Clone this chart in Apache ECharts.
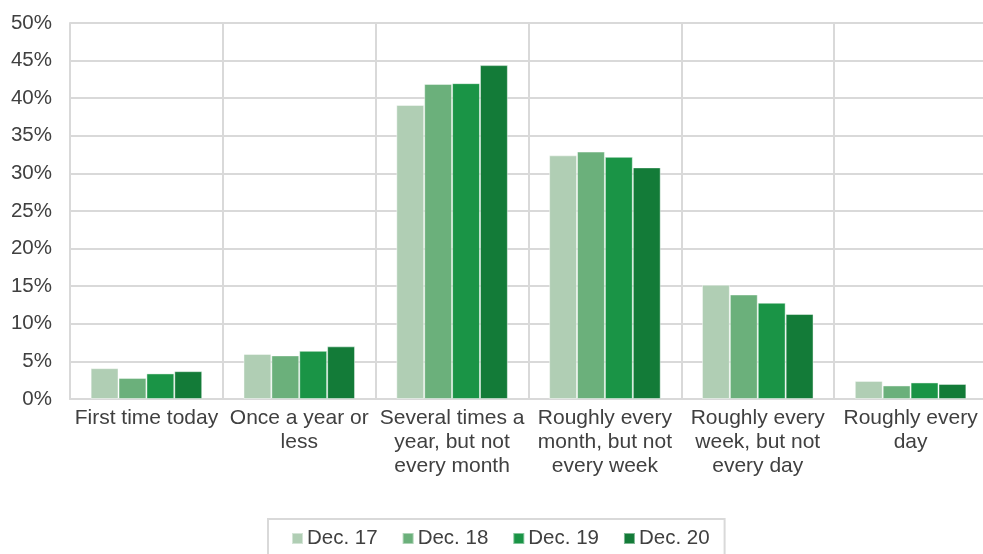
<!DOCTYPE html>
<html>
<head>
<meta charset="utf-8">
<script src="https://cdn.jsdelivr.net/npm/echarts@6/dist/echarts.min.js"></script>
<style>
  html, body { margin: 0; padding: 0; background: #fff; overflow: hidden; }
  /* the plot runs a few pixels past the right edge of the window */
  #chart { width: 990px; height: 554px; }
</style>
</head>
<body>
<div id="chart"></div>
<script>
// Visit frequency categories (x axis)
const categories = [
  'First time today',
  'Once a year or\nless',
  'Several times a\nyear, but not\nevery month',
  'Roughly every\nmonth, but not\nevery week',
  'Roughly every\nweek, but not\nevery day',
  'Roughly every\nday'
];

// Share of respondents, in percent, per survey wave
const dec17 = [4.1, 6.0, 39.1, 32.4, 15.2, 2.4];
const dec18 = [2.8, 5.8, 41.9, 32.9, 13.9, 1.8];
const dec19 = [3.4, 6.4, 42.0, 32.2, 12.8, 2.2];
const dec20 = [3.7, 7.0, 44.4, 30.8, 11.3, 2.0];

const seriesNames = ['Dec. 17', 'Dec. 18', 'Dec. 19', 'Dec. 20'];
const seriesColors = ['#B0CEB4', '#6BB07B', '#1A9446', '#137B38'];

const yTicks = { min: 0, max: 50, interval: 5 };

const gridColor = '#D9D9D9';
const textColor = '#404040';
const fontFamily = '"Liberation Sans", Arial, sans-serif';

const chart = echarts.init(document.getElementById('chart'), null, { renderer: 'canvas' });

const seriesData = [dec17, dec18, dec19, dec20];

chart.setOption({
  animation: false,
  textStyle: { fontFamily: fontFamily },
  grid: { left: 70, top: 23, right: 3, bottom: 155, containLabel: false },
  legend: {
    data: seriesNames,
    left: 268,
    top: 519,
    orient: 'horizontal',
    icon: 'rect',
    itemWidth: 11,
    itemHeight: 11,
    itemGap: 24,
    padding: [9, 15, 20, 23],
    borderColor: gridColor,
    borderWidth: 2,
    textStyle: { color: textColor, fontSize: 20.5, fontFamily: fontFamily, padding: [0, 0, 0, -1] }
  },
  xAxis: {
    type: 'category',
    data: categories,
    boundaryGap: true,
    axisLine: { show: true, lineStyle: { color: gridColor, width: 2 } },
    axisTick: { show: false },
    splitLine: { show: true, interval: 0, lineStyle: { color: gridColor, width: 2 } },
    axisLabel: {
      interval: 0,
      color: textColor,
      fontSize: 21,
      lineHeight: 24,
      margin: 7,
      fontFamily: fontFamily
    }
  },
  yAxis: {
    type: 'value',
    min: yTicks.min,
    max: yTicks.max,
    interval: yTicks.interval,
    axisLine: { show: true, lineStyle: { color: gridColor, width: 2 } },
    axisTick: { show: false },
    splitLine: { show: true, lineStyle: { color: gridColor, width: 2 } },
    axisLabel: {
      formatter: '{value}%',
      color: textColor,
      fontSize: 20.5,
      margin: 18,
      fontFamily: fontFamily
    }
  },
  series: seriesNames.map((name, i) => ({
    name: name,
    type: 'bar',
    data: seriesData[i],
    barGap: '0%',
    barCategoryGap: '27%',
    itemStyle: {
      color: seriesColors[i],
      borderColor: 'rgba(255,255,255,0.45)',
      borderWidth: 1
    }
  }))
});
</script>
</body>
</html>
